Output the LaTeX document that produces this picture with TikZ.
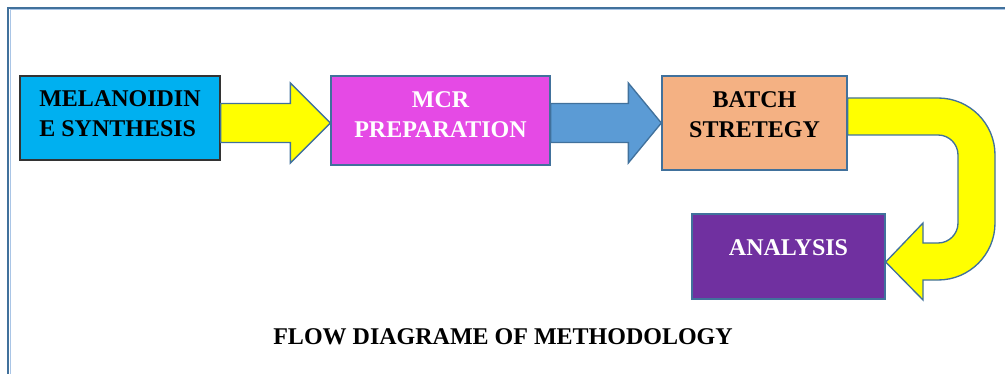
\documentclass[tikz,border=0pt]{standalone}
\usepackage{fontspec}
\setmainfont{Liberation Serif}
\usepackage{xcolor}
\usepackage{tikz}
\usetikzlibrary{calc}

\definecolor{edgeblue}{HTML}{41719C}
\definecolor{framelight}{HTML}{A9C5E6}
\definecolor{cyanbox}{HTML}{00B0F0}
\definecolor{magentabox}{HTML}{E54AE5}
\definecolor{peachbox}{HTML}{F4B183}
\definecolor{purplebox}{HTML}{7030A0}
\definecolor{arrowblue}{HTML}{5B9BD5}
\definecolor{arrowyellow}{HTML}{FFFF00}

% block arrow: start, tip, head length, fill colour
\newcommand{\blockarrow}[4]{%
  \filldraw[fill=#4, draw=edgeblue, line width=1pt]
    ($(#1)+(0,-19.5)$) -- ($(#2)+(-#3,-19.5)$) -- ($(#2)+(-#3,-40)$) -- (#2)
    -- ($(#2)+(-#3,40)$) -- ($(#2)+(-#3,19.5)$) -- ($(#1)+(0,19.5)$) -- cycle;}

\begin{document}
\begin{tikzpicture}[x=0.75pt, y=-0.75pt,
    stepbox/.style={draw=edgeblue, line width=1pt, inner sep=0pt, align=center,
      font=\fontsize{18}{22.5}\selectfont\bfseries}]
  \useasboundingbox (0,0) rectangle (1005,374);
  % page frame
  \draw[edgeblue, line width=1.6pt] (8,380) -- (8,8) -- (1010,8);
  \draw[framelight, line width=0.75pt] (10,380) -- (10,10) -- (1010,10);
  % process boxes
  \node[stepbox, draw=black!80, fill=cyanbox, align=left, text depth=6pt,
        minimum width=150pt, minimum height=63pt] (melanoidin) at (120,118)
        {MELANOIDIN\\E SYNTHESIS};
  \node[stepbox, fill=magentabox, text=white, text depth=9pt,
        minimum width=164.25pt, minimum height=66.75pt] (mcr) at (440.5,120.5)
        {MCR\\PREPARATION};
  \node[stepbox, fill=peachbox, text depth=12.75pt,
        minimum width=138.75pt, minimum height=70.5pt] (batch) at (754.5,123)
        {BATCH\\STRETEGY};
  \node[stepbox, fill=purplebox, text=white, text depth=12.75pt,
        minimum width=144.75pt, minimum height=63.75pt] (analysis) at (788.5,256.5)
        {ANALYSIS};
  % straight block arrows
  \coordinate (a1s) at (melanoidin.east |- batch.west);
  \coordinate (a1t) at (mcr.west |- batch.west);
  \coordinate (a2s) at (mcr.east |- batch.west);
  \coordinate (a2t) at (batch.west);
  \blockarrow{a1s}{a1t}{40}{arrowyellow}
  \blockarrow{a2s}{a2t}{33}{arrowblue}
  % u-turn arrow down to analysis
  \filldraw[fill=arrowyellow, draw=edgeblue, line width=1pt]
    (batch.east |- 0,98) -- (938,98) arc(-90:0:57) -- (995,223) arc(0:90:57)
    -- (923,280) -- (923,300) -- (analysis.east |- 0,262) -- (923,223) -- (923,243)
    -- (938,243) arc(90:0:20) -- (958,155) arc(0:-90:20) -- (batch.east |- 0,135) -- cycle;
  \node[font=\fontsize{18}{22.5}\selectfont\bfseries] (caption) at (503,337)
    {FLOW DIAGRAME OF METHODOLOGY};
\end{tikzpicture}
\end{document}
